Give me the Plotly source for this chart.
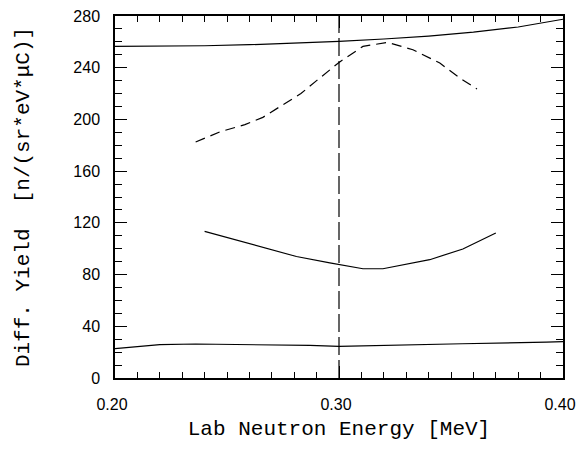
import plotly.graph_objects as go

# curves (energy in MeV, yield in n/(sr*eV*uC))
upper_x = [0.20, 0.22, 0.24, 0.26, 0.28, 0.30, 0.32, 0.34, 0.36, 0.38, 0.40]
upper_y = [256.5, 256.6, 257.0, 257.8, 259.0, 260.4, 262.2, 264.5, 267.5, 271.5, 277.5]

peak_x = [0.236, 0.2467, 0.258, 0.266, 0.275, 0.283, 0.29, 0.30, 0.3107, 0.3218, 0.333, 0.345, 0.354, 0.3616]
peak_y = [182.5, 190.3, 196.0, 201.6, 211.4, 220.0, 230.0, 244.1, 256.5, 259.6, 253.9, 243.6, 232.0, 223.5]

dip_x = [0.240, 0.2586, 0.281, 0.2959, 0.3107, 0.3196, 0.3405, 0.3553, 0.370]
dip_y = [113.4, 104.4, 94.0, 89.0, 84.5, 84.5, 91.5, 99.8, 112.2]

lower_x = [0.20, 0.22, 0.236, 0.257, 0.287, 0.30, 0.32, 0.355, 0.3926, 0.40]
lower_y = [22.7, 25.8, 26.3, 26.0, 25.2, 24.4, 25.0, 26.5, 27.8, 28.1]

marker_energy = 0.30

x_ticks = [0.20, 0.30, 0.40]
x_labels = ['0.20', '0.30', '0.40']
y_ticks = [0, 40, 80, 120, 160, 200, 240, 280]

tick_font = dict(family='Liberation Sans, Arial, sans-serif', size=16, color='black')
title_font = dict(family='Liberation Mono, monospace', size=21, color='black')

fig = go.Figure()
for xs, ys, dash in [(upper_x, upper_y, 'solid'), (peak_x, peak_y, '10px,6px'),
                     (dip_x, dip_y, 'solid'), (lower_x, lower_y, 'solid')]:
    fig.add_trace(go.Scatter(x=xs, y=ys, mode='lines',
                             line=dict(color='black', width=1.2, dash=dash)))

fig.add_vline(x=marker_energy, line=dict(color='black', width=1.2, dash='18px,5px'))

axis_common = dict(
    showgrid=False, zeroline=False, automargin=False,
    showline=True, linecolor='black', linewidth=1.5, mirror='ticks',
    ticks='inside', tickcolor='black', tickwidth=1.2, ticklen=12,
    tickfont=tick_font, ticklabeloverflow='allow',
)

fig.update_layout(
    width=577, height=449,
    margin=dict(t=16, l=115, r=14, b=71),
    plot_bgcolor='white', paper_bgcolor='white',
    showlegend=False,
    xaxis=dict(
        **axis_common,
        range=[x_ticks[0], x_ticks[-1]], tickmode='array', tickvals=x_ticks, ticktext=x_labels,
        ticklabelstandoff=11, ticklabelshift=-3,
        minor=dict(dtick=0.01, tick0=0.2, ticks='inside', ticklen=6, tickcolor='black', tickwidth=1.2),
        title=dict(text='Lab Neutron Energy [MeV]', font=title_font, standoff=8),
    ),
    yaxis=dict(
        **axis_common,
        range=[y_ticks[0], y_ticks[-1]], tickmode='array', tickvals=y_ticks,
        ticklabelstandoff=10,
        minor=dict(dtick=10, ticks='inside', ticklen=7, tickcolor='black', tickwidth=1.2),
        title=dict(text='Diff. Yield  [n/(sr*eV*μC)]', font=title_font, standoff=38),
    ),
)

# drop the default body margin so the figure fills the window exactly
fig.write_html('out.html', config={'displayModeBar': False},
               post_script="document.body.style.margin='0';document.body.style.overflow='hidden';")
